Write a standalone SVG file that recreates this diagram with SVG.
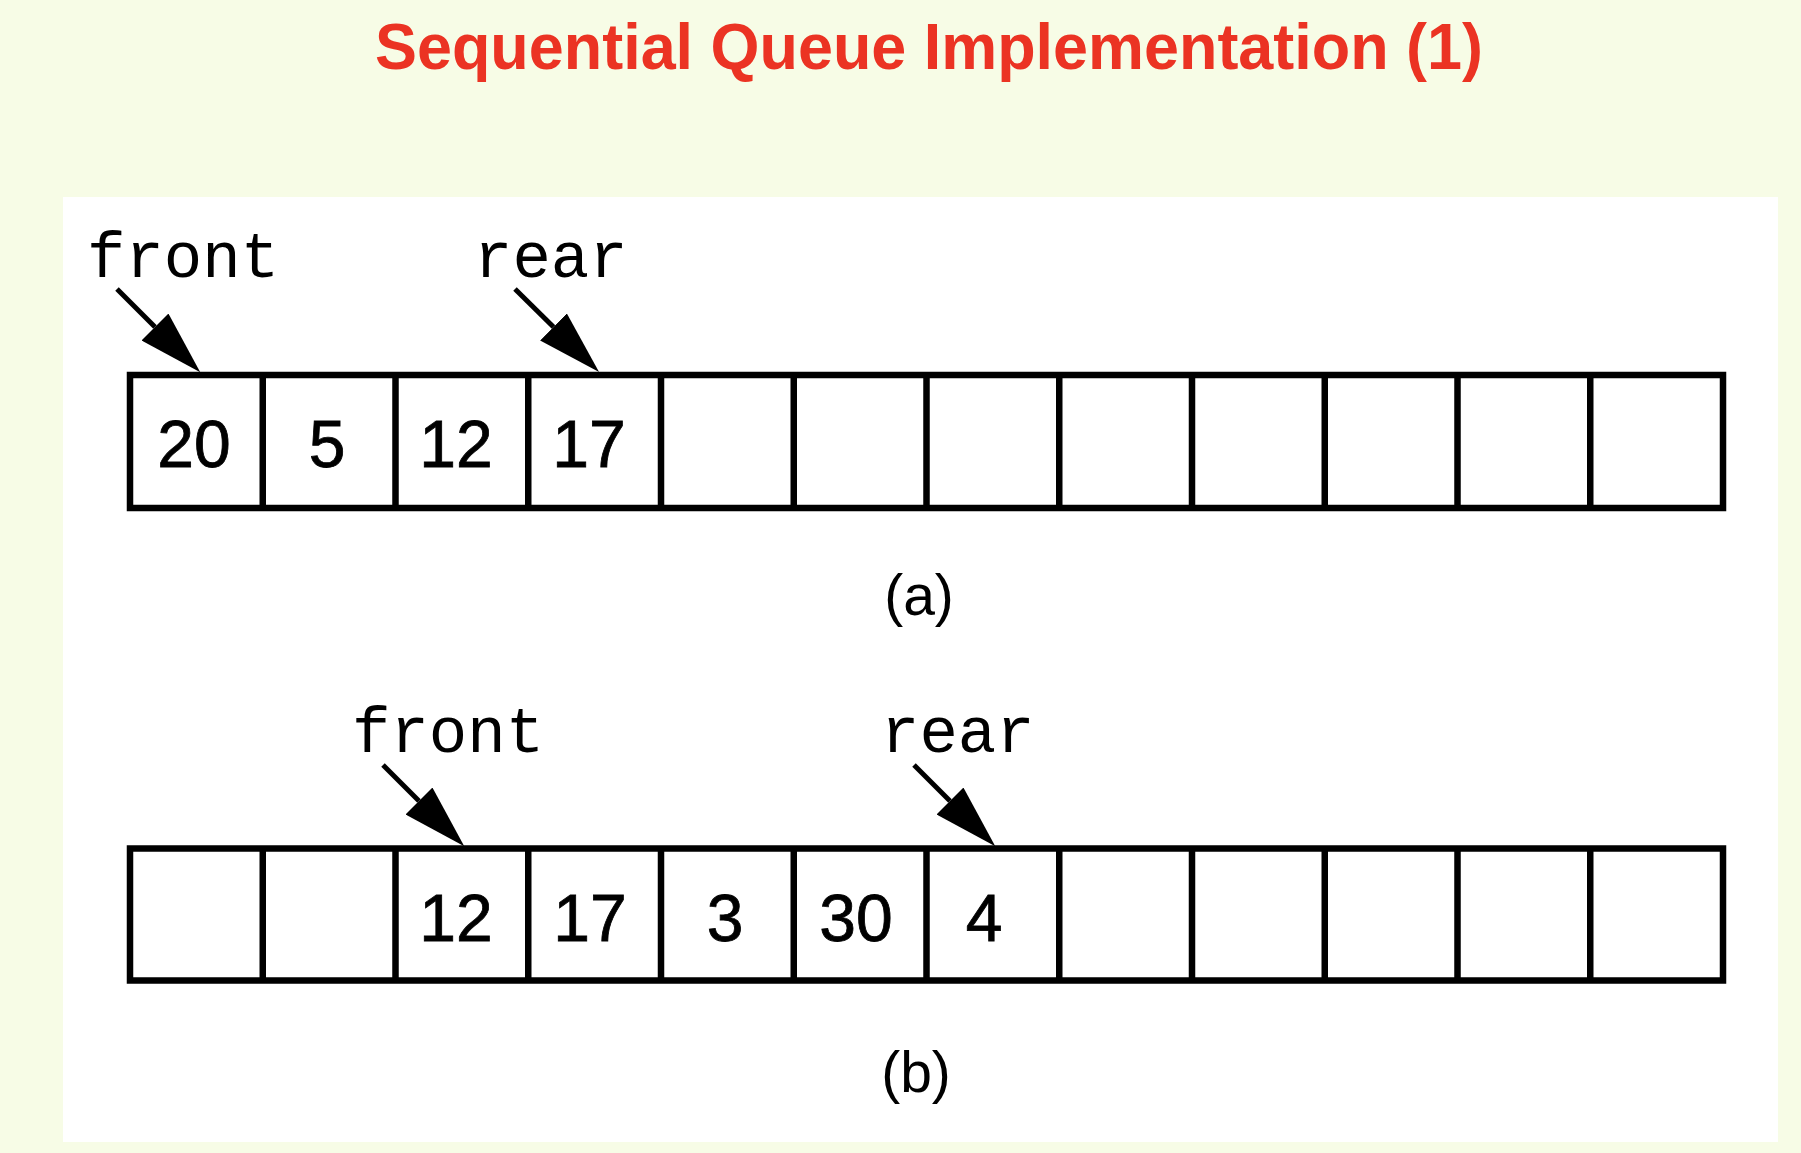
<svg xmlns="http://www.w3.org/2000/svg" width="1801" height="1153" viewBox="0 0 1801 1153">
  <style>
    .title { font-family: "Liberation Sans", Arial, sans-serif; font-weight: bold; font-size: 65px; fill: #EB3323; }
    .ptr { font-family: "Liberation Mono", "Courier New", monospace; font-size: 64px; fill: #000; }
    .num { font-family: "Liberation Sans", Arial, sans-serif; font-size: 66px; fill: #000; stroke: #000; stroke-width: 0.8; text-anchor: middle; }
    .cap { font-family: "Liberation Sans", Arial, sans-serif; font-size: 57px; fill: #000; text-anchor: middle; }
    .arr { fill: none; stroke: #000; stroke-width: 6.5; }
    .cell { fill: none; stroke: #000; stroke-width: 6.5; }
    .conn { stroke: #000; stroke-width: 5; fill: none; marker-end: url(#head); }
  </style>
  <defs>
    <marker id="head" viewBox="0 -19 64 38" refX="0" refY="0" markerWidth="64" markerHeight="38" markerUnits="userSpaceOnUse" orient="auto">
      <path d="M0,-19 L64,0 L0,19 z" fill="#000"/>
    </marker>
  </defs>
  <rect x="0" y="0" width="1801" height="1153" fill="#F7FCE6"/>
  <rect x="63" y="197" width="1715" height="945" fill="#FFFFFF"/>
  <text class="title" x="929" y="69" text-anchor="middle" textLength="1108" lengthAdjust="spacingAndGlyphs">Sequential Queue Implementation (1)</text>

  <g id="array-a">
    <rect class="arr" x="130" y="375" width="1593" height="133"/>
    <path class="cell" d="M262.75,375V508M395.5,375V508M528.25,375V508M661,375V508M793.75,375V508M926.5,375V508M1059.25,375V508M1192,375V508M1324.75,375V508M1457.5,375V508M1590.25,375V508"/>
    <text class="num" x="194" y="467">20</text>
    <text class="num" x="327" y="467">5</text>
    <text class="num" x="456" y="467">12</text>
    <text class="num" x="589" y="467">17</text>
  </g>
  <g id="front-a"><text class="ptr" x="87" y="277">front</text></g>
  <g id="rear-a"><text class="ptr" x="474" y="277">rear</text></g>
  <g id="label-a"><text class="cap" x="919" y="615">(a)</text></g>

  <g id="array-b">
    <rect class="arr" x="130" y="848.5" width="1593" height="132"/>
    <path class="cell" d="M262.75,848.5V980.5M395.5,848.5V980.5M528.25,848.5V980.5M661,848.5V980.5M793.75,848.5V980.5M926.5,848.5V980.5M1059.25,848.5V980.5M1192,848.5V980.5M1324.75,848.5V980.5M1457.5,848.5V980.5M1590.25,848.5V980.5"/>
    <text class="num" x="456" y="941">12</text>
    <text class="num" x="590" y="941">17</text>
    <text class="num" x="725" y="941">3</text>
    <text class="num" x="856" y="941">30</text>
    <text class="num" x="984" y="941">4</text>
  </g>
  <g id="front-b"><text class="ptr" x="352" y="752">front</text></g>
  <g id="rear-b"><text class="ptr" x="881" y="752">rear</text></g>
  <g id="label-b"><text class="cap" x="916" y="1092">(b)</text></g>

  <g id="connectors">
    <path class="conn" d="M117,289 L155,327"/>
    <path class="conn" d="M515,289 L553.5,327"/>
    <path class="conn" d="M383,765 L419,801"/>
    <path class="conn" d="M914,765 L950,801"/>
  </g>
</svg>
